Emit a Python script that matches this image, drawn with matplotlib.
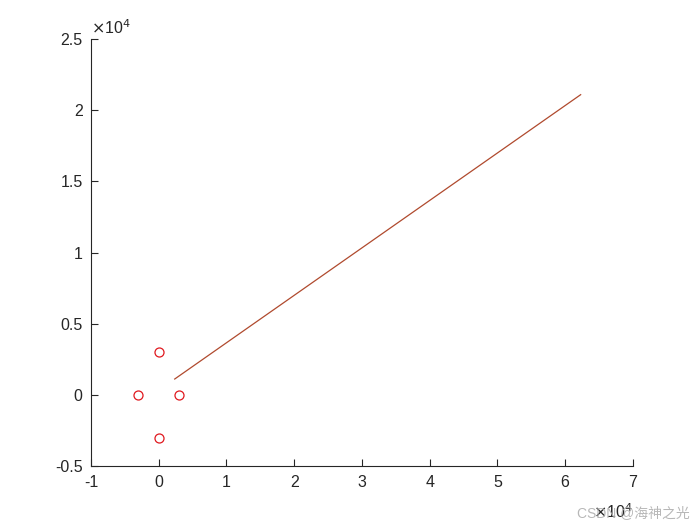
import matplotlib
matplotlib.use("Agg")
import matplotlib.pyplot as plt
from matplotlib.ticker import FuncFormatter

plt.rcParams['font.family'] = ['Liberation Sans', 'Noto Sans CJK SC', 'DejaVu Sans']

# data (raw units)
circle_x = [0, -3000, 3000, 0]
circle_y = [3000, 0, 0, -3000]
line_x = [2360, 62300]
line_y = [1120, 21080]

xticks = [-1e4, 0, 1e4, 2e4, 3e4, 4e4, 5e4, 6e4, 7e4]
yticks = [-5e3, 0, 5e3, 1e4, 1.5e4, 2e4, 2.5e4]

fig = plt.figure(figsize=(7, 5.25), dpi=100)
ax = fig.add_axes([0.13, 0.112, 0.774, 0.814])

ax.plot(circle_x, circle_y, 'o', mfc='none', mec='#E0181E', ms=6.5, mew=0.9)
ax.plot(line_x, line_y, '-', color='#B04A2E', lw=0.9)

ax.set_xlim(-1e4, 7e4)
ax.set_ylim(-5e3, 2.5e4)
ax.set_xticks(xticks)
ax.set_yticks(yticks)

def fmt(v, pos):
    return f"{v/1e4:g}"
ax.xaxis.set_major_formatter(FuncFormatter(fmt))
ax.yaxis.set_major_formatter(FuncFormatter(fmt))

for s in ['top', 'right']:
    ax.spines[s].set_visible(False)
for s in ['left', 'bottom']:
    ax.spines[s].set_color('#262626')
    ax.spines[s].set_linewidth(0.8)
ax.tick_params(direction='in', length=5, width=0.8, colors='#262626',
               labelsize=11.5, labelcolor='#262626', pad=6)

ax.text(0.0, 1.005, r'$\times$10$^4$', transform=ax.transAxes, fontsize=11.5,
        color='#262626', ha='left', va='bottom')
ax.text(1.0, -0.085, r'$\times$10$^4$', transform=ax.transAxes, fontsize=11.5,
        color='#262626', ha='right', va='top')

fig.text(0.985, 0.01, 'CSDN @海神之光', fontsize=10, color='#B0B0B0',
         ha='right', va='bottom', alpha=0.9)

fig.savefig('out.png', dpi=100, facecolor='white')
